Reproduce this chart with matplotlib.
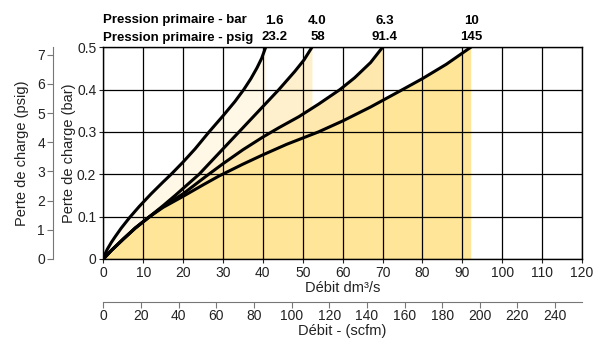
import matplotlib.pyplot as plt
import matplotlib.transforms as mtransforms

plt.rcParams['font.family'] = ['Liberation Sans', 'DejaVu Sans']
plt.rcParams['font.size'] = 10

# pressure curves: flow (dm3/s) vs pressure drop (bar)
x_16 = [0, 0.5, 1, 2, 3, 4.5, 6.6, 9, 12, 15, 17, 20, 23, 26.5, 30, 33, 35.2, 37, 38.5, 39.7, 40.7]
y_16 = [0, 0.013, 0.023, 0.039, 0.053, 0.073, 0.098, 0.124, 0.154, 0.182, 0.2, 0.229, 0.26,
        0.3, 0.338, 0.372, 0.4, 0.426, 0.451, 0.474, 0.5]

x_40 = [0, 2, 5, 8, 11.6, 15, 18, 21, 24, 29, 34, 39, 44, 48, 50.3, 52.3]
y_40 = [0, 0.02, 0.047, 0.073, 0.1, 0.126, 0.15, 0.175, 0.2, 0.25, 0.3, 0.35, 0.4, 0.443, 0.47, 0.5]

x_63 = [0, 2, 5, 8, 11.6, 15, 20, 25.7, 30, 35, 40, 44, 49, 54, 59.3, 63, 67, 70]
y_63 = [0, 0.02, 0.047, 0.073, 0.1, 0.124, 0.154, 0.195, 0.225, 0.258, 0.288, 0.31, 0.336,
        0.366, 0.4, 0.428, 0.464, 0.5]

x_10 = [0, 2, 5, 8, 11.6, 15, 20, 25, 29, 35, 40, 46, 53.9, 60, 67, 74.6, 80, 86, 92.1]
y_10 = [0, 0.02, 0.047, 0.073, 0.1, 0.122, 0.148, 0.175, 0.196, 0.224, 0.246, 0.271, 0.3,
        0.326, 0.359, 0.398, 0.426, 0.46, 0.5]

curves = [(x_16, y_16, '#FFF8E6'), (x_40, y_40, '#FEF0CC'),
          (x_63, y_63, '#FEE8AE'), (x_10, y_10, '#FFE597')]

p_bar = ['1.6', '4.0', '6.3', '10']
p_psig = ['23.2', '58', '91.4', '145']
p_pos = [43, 53.7, 70.6, 92.3]

BAR2PSI = 14.5038
DM3_2_SCFM = 2.119

fig = plt.figure(figsize=(5.95, 3.4), dpi=100)
ax = fig.add_axes([103.3/595, 1-259/340, 478.7/595, 211.7/340])

for xs, ys, c in curves:
    ax.fill_between(xs, ys, 0, color=c, lw=0, zorder=1)
for xs, ys, c in curves:
    ax.plot(xs, ys, color='black', lw=2.2, zorder=3, solid_joinstyle='round')

ax.set_xlim(0, 120)
ax.set_ylim(0, 0.5)
ax.set_xticks(range(0, 121, 10))
ax.set_yticks([0, 0.1, 0.2, 0.3, 0.4, 0.5])
ax.set_yticklabels(['0', '0.1', '0.2', '0.3', '0.4', '0.5'])
ax.set_axisbelow('line')
ax.grid(True, color='black', lw=0.9)
for s in ax.spines.values():
    s.set_color('black')
    s.set_linewidth(1)
ax.tick_params(length=3, width=0.8, pad=2, labelsize=10, colors='#222222')
ax.set_xlabel('Débit dm³/s', fontsize=10.5, labelpad=1, color='#222222')
ax.set_ylabel('Perte de charge (bar)', fontsize=10.5, labelpad=1, color='#222222')

# psig axis on the left
ay = ax.secondary_yaxis(-50/478.7, functions=(lambda b: b*BAR2PSI, lambda p: p/BAR2PSI))
ay.set_yticks(range(0, 8))
ay.spines['left'].set_color('#777777')
ay.tick_params(length=4, width=0.8, colors='#777777', labelcolor='#222222', labelsize=10, pad=2)
ay.set_ylabel('Perte de charge (psig)', fontsize=10.5, labelpad=6, color='#222222')

# scfm axis below
sx = ax.secondary_xaxis(-43/211.7, functions=(lambda d: d*DM3_2_SCFM, lambda s: s/DM3_2_SCFM))
sx.set_xticks(range(0, 241, 20))
sx.spines['bottom'].set_color('#777777')
sx.tick_params(length=4, width=0.8, colors='#777777', labelcolor='#222222', labelsize=10, pad=1)
sx.set_xlabel('Débit - (scfm)', fontsize=10.5, labelpad=1, color='#222222')

# header
tr = mtransforms.blended_transform_factory(ax.transData, fig.transFigure)
for lab, b, p in zip(p_pos, p_bar, p_psig):
    ax.text(lab, 1-23.5/340, b, transform=tr, ha='center', va='baseline',
            fontsize=9.5, fontweight='bold', zorder=4)
    ax.text(lab, 1-40.5/340, p, transform=tr, ha='center', va='baseline',
            fontsize=9.5, fontweight='bold', zorder=4)
box = dict(facecolor='white', edgecolor='none', pad=1.5)
fig.text(103.3/595, 1-23.5/340, 'Pression primaire - bar', ha='left', va='baseline',
         fontsize=9.5, fontweight='bold', bbox=box, zorder=5)
fig.text(103.3/595, 1-40.5/340, 'Pression primaire - psig', ha='left', va='baseline',
         fontsize=9.5, fontweight='bold', bbox=box, zorder=5)

fig.savefig('out.png', dpi=100)
